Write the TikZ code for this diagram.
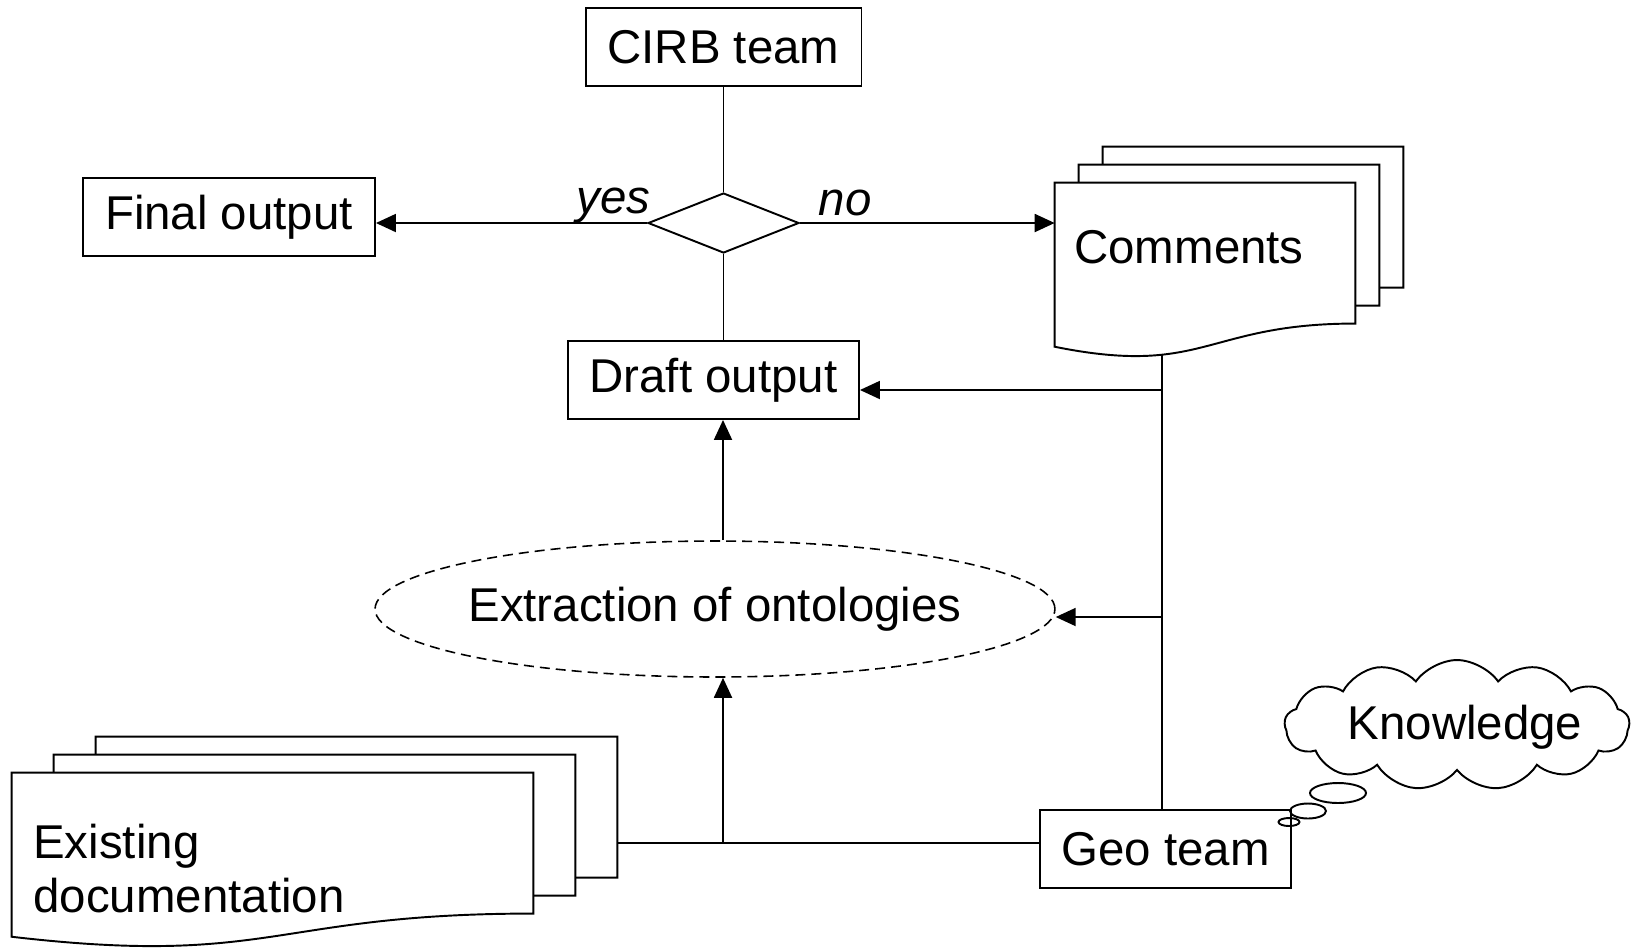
\documentclass[tikz,border=0pt]{standalone}
\usepackage{fontspec}
\setmainfont{Liberation Sans}
\usetikzlibrary{shapes.geometric, shapes.symbols, arrows.meta, calc}
\newcommand{\bigtxt}{\fontsize{27}{31}\selectfont}
\newcommand{\docstack}[3]{
    \foreach \k in {2,1}{
        \draw[page_line] ($(#1.north west)+({\k*#2},{-(\k-1)*#3})$) -- ($(#1.north west)+({\k*#2},{-\k*#3})$)
            -- ($(#1.north east)+({\k*#2},{-\k*#3})$)
            -- ($(#1.north east)!0.802!(#1.south east)+({\k*#2},{-\k*#3})$)
            -- ($(#1.north east)!0.802!(#1.south east)+({(\k-1)*#2},{-\k*#3})$);
    }
    \draw[page_line] (#1.north west) -- (#1.north east) -- ($(#1.north east)!0.802!(#1.south east)$)
        .. controls ($(#1.north)!0.802!(#1.south)$) and ($(#1.north)!1.107!(#1.south)$) .. ($(#1.north west)!0.934!(#1.south west)$) -- cycle;
}
\tikzset{
    box_plain/.style={
        rectangle, draw=black, line width=1.1pt,
        minimum height=1.56cm, inner sep=0pt,
        align=center, font=\bigtxt
    },
    box_choice/.style={
        diamond, draw=black, line width=1.1pt,
        minimum width=3.02cm, minimum height=1.2cm, inner sep=0pt
    },
    box_oval/.style={
        ellipse, draw=black, line width=0.9pt, dash pattern=on 0.2cm off 0.12cm,
        minimum width=13.6cm, minimum height=2.72cm, inner ysep=0pt, inner xsep=-0.25cm, font=\bigtxt
    },
    box_page/.style={
        rectangle, draw=none, minimum height=3.5cm, inner sep=0pt
    },
    box_cloud/.style={
        cloud, draw=black, line width=1.1pt, cloud puffs=13, cloud puff arc=110,
        aspect=2.6, minimum width=6.9cm, minimum height=2.6cm, inner sep=0pt
    },
    page_line/.style={draw=black, line width=1.1pt},
    pipe_arrow/.style={
        -{Triangle[length=0.4cm, width=0.36cm]}, draw=black, line width=1.1pt
    },
    plain_line/.style={draw=black, line width=1.1pt},
    lbl/.style={font=\bigtxt, inner sep=0pt},
    lbl_it/.style={font=\bigtxt\itshape, inner sep=0pt, anchor=base}
}
\begin{document}
\begin{tikzpicture}[x=0.02cm, y=-0.02cm]
    \useasboundingbox (0,0) rectangle (1633,948);

    \node[box_plain, minimum width=5.52cm] (cirb) at (723.5,47) {CIRB team};
    \node[box_choice] (dec) at (723.5,223) {};
    \node[box_plain, minimum width=5.84cm] (final) at (229,217) {Final output};
    \node[box_plain, minimum width=5.82cm] (draft) at (713.5,380) {Draft output};
    \node[box_oval] (ext) at (715,609) {Extraction of ontologies};
    \node[box_plain, minimum width=5.02cm] (geo) at (1165.5,849) {Geo team};

    \node[box_page, minimum width=6cm] (comments) at (1205,270.5) {};
    \docstack{comments}{24}{18}
    \node[lbl] (cmttxt) at (1189,247) {Comments};

    \node[box_page, minimum width=10.42cm] (existdoc) at (272.5,860.5) {};
    \docstack{existdoc}{42}{18}
    \node[lbl, align=left, anchor=west] (doctxt) at (33,868.5) {Existing\\documentation};

    \node[box_cloud] (knowcloud) at (1457,725) {};
    \node[lbl] (knowtxt) at (1465,727) {Knowledge};
    \draw[page_line] (1338,793) ellipse [x radius=0.56cm, y radius=0.2cm];
    \draw[page_line] (1308,811) ellipse [x radius=0.36cm, y radius=0.15cm];
    \draw[page_line] (1289,822) ellipse [x radius=0.21cm, y radius=0.08cm];

    \node[lbl_it] (yes) at (613.5,213) {yes};
    \node[lbl_it] (no) at (845,215) {no};

    \coordinate (cmtfoot) at (1162,355);
    \coordinate (fbdraft) at (1162,390);
    \coordinate (fbext) at (1162,617);
    \coordinate (docout) at (617,843);
    \coordinate (docjoin) at (723,843);

    \draw[plain_line] (cirb.south) -- (dec.north);
    \draw[plain_line] (dec.south) -- (dec.south |- draft.north);
    \draw[pipe_arrow] (dec.west) -- (dec.west -| final.east);
    \draw[pipe_arrow] (dec.east) -- (dec.east -| comments.west);
    \draw[plain_line] (cmtfoot) -- (cmtfoot |- geo.north);
    \draw[pipe_arrow] (fbdraft) -- (fbdraft -| draft.east);
    \draw[pipe_arrow] (fbext) -- (fbext -| ext.east);
    \draw[plain_line] (docout) -- (docout -| geo.west);
    \draw[pipe_arrow] (docjoin) -- (docjoin |- ext.south);
    \draw[pipe_arrow] (ext.north -| docjoin) -- (docjoin |- draft.south);
\end{tikzpicture}
\end{document}
